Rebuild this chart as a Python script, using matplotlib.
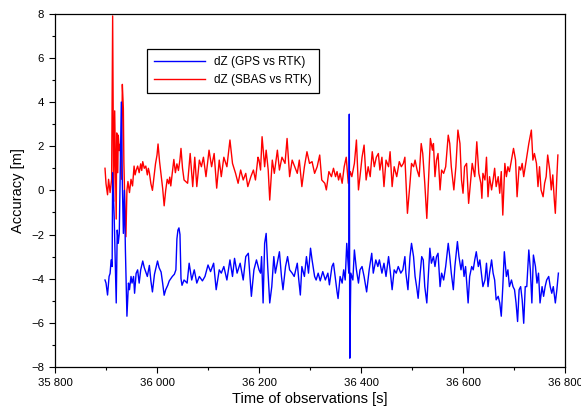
import matplotlib
matplotlib.use("Agg")
import matplotlib.pyplot as plt
from matplotlib.ticker import MultipleLocator, FixedLocator

plt.rcParams['font.family'] = ['Liberation Sans', 'DejaVu Sans']

# ---- data (time [s], dZ [m]) ----
gps_t = [35898, 35900, 35903, 35906, 35908, 35910, 35912, 35913, 35916, 35920,
         35922, 35924, 35926, 35930, 35932, 35934, 35936, 35938, 35941, 35944,
         35946, 35949, 35951, 35954, 35956, 35959, 35962, 35965, 35968, 35972,
         35975, 35978, 35981, 35985, 35988, 35991, 35995, 36001, 36004, 36008,
         36011, 36014, 36017, 36021, 36024, 36027, 36030, 36034, 36037, 36039,
         36041, 36043, 36045, 36047, 36049, 36053, 36059, 36063, 36068, 36073,
         36078, 36083, 36089, 36094, 36100, 36105, 36111, 36116, 36122, 36126,
         36131, 36137, 36143, 36148, 36152, 36157, 36163, 36169, 36174, 36179,
         36185, 36190, 36195, 36200, 36203, 36205, 36208, 36211, 36214, 36217,
         36221, 36225, 36229, 36232, 36237, 36240, 36244, 36247, 36252, 36256,
         36260, 36265, 36269, 36275, 36278, 36281, 36284, 36289, 36293, 36297,
         36301, 36304, 36309, 36312, 36316, 36320, 36325, 36330, 36335, 36338,
         36343, 36346, 36350, 36353, 36355, 36359, 36363, 36366, 36369, 36372,
         36376, 36377, 36378, 36380, 36384, 36387, 36391, 36395, 36398, 36402,
         36406, 36411, 36416, 36421, 36424, 36429, 36433, 36436, 36441, 36445,
         36449, 36454, 36457, 36461, 36465, 36469, 36473, 36478, 36482, 36486,
         36488, 36492, 36496, 36499, 36503, 36506, 36509, 36512, 36516, 36519,
         36522, 36525, 36529, 36532, 36535, 36538, 36542, 36545, 36548, 36551,
         36555, 36558, 36562, 36566, 36571, 36574, 36577, 36581, 36584, 36589,
         36592, 36596, 36599, 36602, 36605, 36610, 36613, 36617, 36620, 36623,
         36626, 36630, 36633, 36636, 36639, 36643, 36646, 36649, 36652, 36656,
         36659, 36662, 36665, 36669, 36672, 36675, 36678, 36681, 36685, 36688,
         36691, 36695, 36698, 36701, 36704, 36707, 36710, 36713, 36716, 36719,
         36722, 36725, 36729, 36732, 36735, 36738, 36742, 36745, 36748, 36751,
         36755, 36758, 36761, 36764, 36768, 36771, 36774, 36777, 36781, 36784,
         36787]
gps_dz = [-4.06, -4.2, -4.74, -3.9, -3.76, -3.15, -3.45, 0.8, -1.2, -5.1,
          -1.8, -2.4, -1.95, 4.0, 0.3, -1.95, 0.0, -2.7, -5.7, -4.2,
          -4.5, -3.9, -4.2, -3.9, -4.66, -3.76, -3.6, -4.2, -3.6, -3.2,
          -3.5, -3.7, -3.9, -3.4, -4.1, -4.6, -3.8, -3.2, -3.5, -3.7,
          -4.2, -4.75, -4.5, -4.3, -4.1, -4.0, -3.9, -3.8, -3.6, -2.2,
          -1.8, -1.7, -2.0, -4.0, -4.3, -4.06, -4.2, -3.3, -4.06, -3.6,
          -4.2, -3.9, -4.1, -3.9, -3.38, -3.68, -3.3, -4.5, -3.6, -3.75,
          -3.45, -4.06, -3.15, -3.9, -3.08, -3.75, -3.3, -4.06, -3.0, -2.85,
          -4.8, -3.6, -3.15, -3.6, -3.75, -3.0, -5.1, -2.4, -1.95, -3.45,
          -5.1, -4.36, -3.0, -3.75, -3.15, -2.78, -3.9, -4.5, -3.45, -3.0,
          -3.6, -3.75, -3.9, -3.3, -4.06, -4.74, -3.45, -3.9, -3.0, -3.75,
          -2.62, -3.15, -3.9, -4.06, -3.75, -4.1, -3.68, -4.06, -3.75, -4.28,
          -3.45, -3.3, -4.06, -4.6, -4.9, -3.9, -4.2, -3.6, -4.06, -2.4,
          -3.75, 3.45, -7.6, -3.75, -4.06, -2.7, -3.6, -4.2, -3.6, -3.45,
          -3.9, -4.6, -3.6, -2.85, -3.75, -3.15, -3.45, -3.15, -3.75, -3.3,
          -3.9, -3.0, -3.6, -4.5, -3.6, -3.75, -3.45, -3.75, -3.6, -3.0,
          -3.75, -4.5, -3.0, -2.4, -3.0, -3.9, -4.36, -4.89, -3.75, -3.0,
          -3.15, -4.36, -5.1, -3.9, -2.62, -3.3, -3.0, -3.45, -3.0, -2.85,
          -4.36, -3.75, -4.06, -3.45, -2.4, -3.0, -3.75, -4.5, -3.45, -2.32,
          -3.0, -3.6, -3.15, -3.9, -3.45, -5.1, -3.9, -3.45, -3.6, -3.15,
          -2.78, -3.45, -3.15, -3.75, -4.36, -4.06, -3.3, -4.36, -3.75, -3.15,
          -3.75, -4.06, -4.96, -4.8, -5.1, -5.7, -4.36, -2.78, -3.9, -3.6,
          -4.36, -4.06, -4.36, -4.5, -5.1, -5.94, -4.5, -4.36, -4.96, -6.02,
          -4.36, -4.36, -2.7, -3.6, -5.1, -2.93, -3.45, -4.2, -3.75, -5.1,
          -4.36, -4.8, -4.36, -4.06, -3.9, -4.36, -4.66, -4.36, -5.1, -4.5,
          -3.75]

sbas_t = [35898, 35900, 35903, 35905, 35908, 35911, 35913, 35915, 35917, 35920,
          35921, 35923, 35924, 35926, 35928, 35930, 35932, 35934, 35935, 35937,
          35939, 35941, 35943, 35946, 35949, 35952, 35955, 35957, 35959, 35962,
          35965, 35968, 35970, 35972, 35975, 35978, 35981, 35983, 35985, 35988,
          35991, 35994, 35997, 36000, 36002, 36005, 36008, 36011, 36014, 36017,
          36020, 36023, 36025, 36027, 36030, 36033, 36036, 36039, 36042, 36045,
          36047, 36050, 36053, 36060, 36065, 36070, 36074, 36078, 36083, 36087,
          36091, 36096, 36102, 36107, 36112, 36117, 36122, 36126, 36131, 36137,
          36143, 36148, 36154, 36159, 36164, 36169, 36174, 36178, 36184, 36189,
          36193, 36198, 36200, 36203, 36206, 36211, 36214, 36218, 36221, 36226,
          36230, 36236, 36240, 36245, 36251, 36255, 36260, 36265, 36270, 36275,
          36279, 36284, 36289, 36294, 36299, 36304, 36309, 36314, 36319, 36323,
          36329, 36332, 36337, 36342, 36346, 36350, 36353, 36356, 36359, 36363,
          36367, 36371, 36375, 36379, 36382, 36387, 36391, 36395, 36398, 36402,
          36406, 36410, 36414, 36418, 36422, 36426, 36430, 36434, 36437, 36441,
          36445, 36449, 36454, 36457, 36461, 36465, 36470, 36475, 36479, 36483,
          36486, 36491, 36496, 36499, 36503, 36506, 36510, 36514, 36518, 36521,
          36525, 36529, 36533, 36536, 36540, 36542, 36545, 36548, 36551, 36555,
          36558, 36562, 36566, 36571, 36574, 36577, 36582, 36586, 36590, 36594,
          36597, 36600, 36603, 36607, 36611, 36615, 36618, 36623, 36627, 36631,
          36635, 36637, 36639, 36643, 36646, 36649, 36652, 36656, 36659, 36662,
          36665, 36669, 36672, 36675, 36678, 36682, 36685, 36688, 36691, 36695,
          36699, 36703, 36706, 36710, 36713, 36716, 36719, 36723, 36726, 36729,
          36734, 36737, 36740, 36744, 36747, 36750, 36753, 36757, 36760, 36763,
          36766, 36770, 36773, 36776, 36779, 36781, 36784, 36786]
sbas_dz = [1.0, 0.3, -0.2, 0.5, -0.1, 0.5, 7.9, -0.5, 3.6, -1.3,
           2.6, 0.8, 2.5, 1.8, 2.1, 0.5, 4.8, 3.7, 1.3, -0.7,
           -2.1, 0.0, 0.4, -0.1, 0.5, 0.2, 1.1, 0.7, 0.9, 1.1,
           0.8, 1.2, 0.9, 1.3, 1.0, 1.1, 0.7, 1.0, 0.8, 0.3,
           0.0, 0.6, 1.2, 1.6, 2.1, 1.3, 0.7, 0.1, -0.7, 0.0,
           0.5, 0.3, 0.6, 0.2, 0.8, 1.4, 0.8, 1.2, 0.9, 1.4,
           1.9, 1.0, 0.47, 0.32, 1.67, 0.17, 1.5, 0.17, 1.37, 1.07,
           1.5, 0.62, 1.82, 1.07, 1.67, 0.1, 1.37, 0.62, 1.5, 1.07,
           2.28, 1.22, 0.77, 0.32, 0.92, 0.47, 0.77, 0.17, 0.62, 0.92,
           0.47, 1.5, 1.37, 0.92, 2.43, 1.07, 1.82, 0.92, -0.44, 1.37,
           0.77, 1.82, 0.92, 1.5, 1.22, 2.35, 0.62, 1.37, 1.07, 0.77,
           1.37, 0.17, 1.07, 1.75, 1.22, 1.3, 0.77, 1.07, 1.6, 0.47,
           0.32, 0.02, 0.85, 0.62, 1.0, 0.62, 0.85, 0.47, 0.77, 0.32,
           1.07, 1.5, 0.32, 0.85, 0.62, 1.22, 2.28, 0.02, 0.62, 1.5,
           2.05, 0.47, 1.07, 0.62, 1.75, 1.07, 1.5, 1.67, 0.92, 1.5,
           0.17, 1.37, 1.07, 1.75, 0.17, 1.07, 0.62, 1.3, 1.07, 1.22,
           1.5, -1.04, 0.32, 1.22, 1.07, 1.37, 0.92, 0.62, 2.12, 1.67,
           0.32, -1.27, 0.77, 2.35, 1.82, 2.12, 0.62, 1.37, 1.67, 0.02,
           0.92, 0.77, 1.07, 2.5, 2.12, 1.07, 0.02, 1.07, 2.73, 2.12,
           0.47, -0.13, 1.07, 1.22, -0.59, 0.47, 1.22, 0.62, 2.2, 0.77,
           0.32, -0.36, 0.77, 0.47, 1.5, -0.29, 0.62, 0.02, 0.47, 1.0,
           0.17, 0.62, -0.13, 0.85, -1.12, 1.22, 0.62, 1.07, 0.85, 1.37,
           1.9, 1.37, -0.29, 1.07, 0.92, 1.22, 0.62, 1.22, 1.67, 2.12,
           2.73, 1.37, 1.67, 1.22, 0.17, 1.07, 0.02, -0.29, 0.32, 0.62,
           1.6, 0.92, 0.02, 0.7, -0.44, -1.04, 0.62, 1.6]

x_ticks = [35800, 36000, 36200, 36400, 36600, 36800]
x_tick_labels = ["35 800", "36 000", "36 200", "36 400", "36 600", "36 800"]
y_ticks = [-8, -6, -4, -2, 0, 2, 4, 6, 8]
series_labels = ["dZ (GPS vs RTK)", "dZ (SBAS vs RTK)"]

fig = plt.figure(figsize=(5.81, 4.13), dpi=100)
ax = fig.add_axes([0.0947, 0.1114, 0.8778, 0.8554])

l_red, = ax.plot(sbas_t, sbas_dz, color="#ff0000", lw=1.0, label=series_labels[1])
l_blue, = ax.plot(gps_t, gps_dz, color="#0000ff", lw=1.0, label=series_labels[0])

ax.set_xlim(35800, 36800)
ax.set_ylim(-8, 8)
ax.xaxis.set_major_locator(FixedLocator(x_ticks))
ax.set_xticklabels(x_tick_labels)
ax.xaxis.set_minor_locator(MultipleLocator(100))
ax.yaxis.set_major_locator(FixedLocator(y_ticks))
ax.yaxis.set_minor_locator(MultipleLocator(1))
ax.tick_params(which="both", direction="out", top=False, right=False,
               labelsize=8.2, colors="black", width=0.8)
ax.tick_params(which="major", length=4, pad=4)
ax.tick_params(which="minor", length=2.5)
for s in ax.spines.values():
    s.set_linewidth(0.9)
    s.set_color("black")

ax.set_xlabel("Time of observations [s]", fontsize=10.5, labelpad=2.5)
ax.set_ylabel("Accuracy [m]", fontsize=10.5, labelpad=4)

leg = ax.legend(handles=[l_blue, l_red], loc="upper left",
                bbox_to_anchor=(0.18, 0.90), borderaxespad=0,
                fontsize=8.5, handlelength=4.3, handletextpad=0.8,
                fancybox=False, frameon=True, edgecolor="black",
                framealpha=1, borderpad=0.6, labelspacing=0.5)
leg.get_frame().set_linewidth(0.9)

fig.savefig("out.png", dpi=100)
